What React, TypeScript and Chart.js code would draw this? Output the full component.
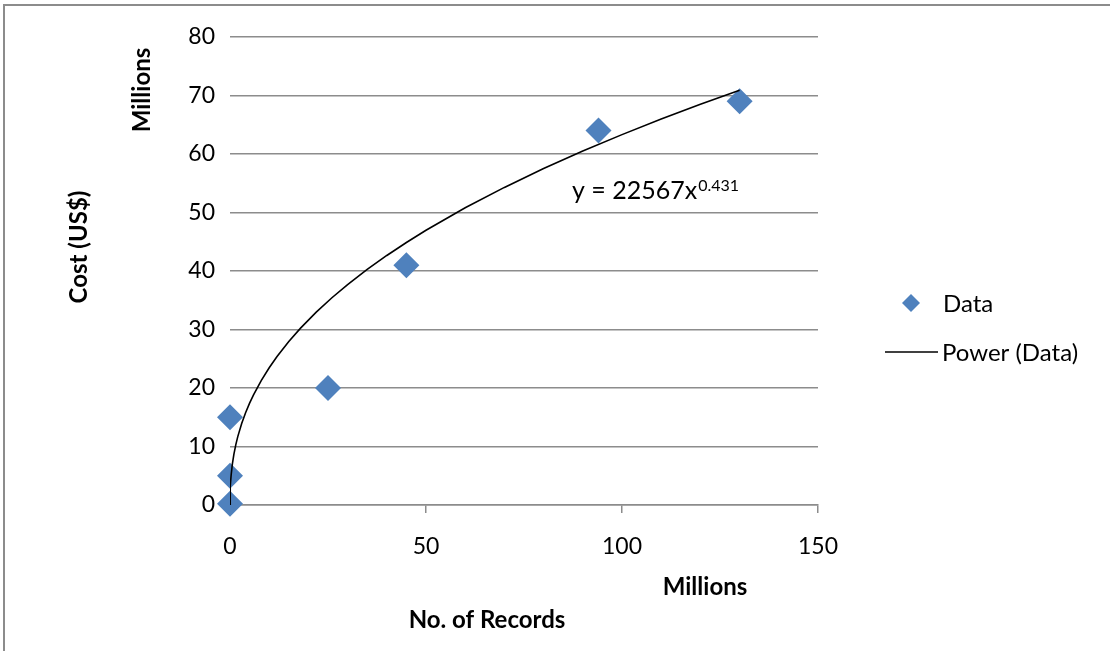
import React, { useEffect, useRef } from "react";
import { Chart, registerables } from "chart.js";

Chart.register(...registerables);

// Data (millions of records vs millions of US$)
const recordsX = [0, 0, 0, 25, 45, 94, 130];
const costY = [0.2, 5, 15, 20, 41, 64, 69];

// Power trendline printed on the chart: y = 22567 x^0.431 (raw units)
const TREND_COEF = 22567;
const TREND_EXP = 0.431;
const trendX = [0, 0.02, 0.1, 0.3, 0.6, 1, 1.5, 2, 3, 4, 5, 6, 8, 10, 12, 15, 18, 22, 26, 30, 35, 40, 45, 50, 60, 70, 80, 90, 100, 110, 120, 130];

const xTicks = [0, 50, 100, 150];
const yTicks = [0, 10, 20, 30, 40, 50, 60, 70, 80];

const FONT = "Lato";

export default function App() {
  const ref = useRef<HTMLCanvasElement | null>(null);

  useEffect(() => {
    document.body.style.margin = "0";
    const canvas = ref.current!;
    const trendPts = trendX.map((x) => ({
      x,
      y: (TREND_COEF * Math.pow(x * 1e6, TREND_EXP)) / 1e6,
    }));
    const dataPts = recordsX.map((x, i) => ({ x, y: costY[i] }));

    const decor = {
      id: "decor",
      beforeDraw(chart: any) {
        const ctx = chart.ctx;
        ctx.save();
        ctx.fillStyle = "#ffffff";
        ctx.fillRect(0, 0, chart.width, chart.height);
        ctx.fillStyle = "#8c8c8c";
        ctx.fillRect(3, 4, 2, chart.height - 4);
        ctx.fillRect(3, 4, chart.width - 3, 2);
        ctx.restore();
      },
      afterDraw(chart: any) {
        const ctx = chart.ctx;
        ctx.save();
        ctx.fillStyle = "#000";
        ctx.textBaseline = "middle";
        // axis titles
        ctx.font = `bold 24px ${FONT}`;
        ctx.textAlign = "center";
        ctx.save();
        ctx.translate(79, 247);
        ctx.rotate(-Math.PI / 2);
        ctx.fillText("Cost (US$)", 0, 0);
        ctx.restore();
        ctx.save();
        ctx.translate(142, 90);
        ctx.rotate(-Math.PI / 2);
        ctx.fillText("Millions", 0, 0);
        ctx.restore();
        ctx.fillText("Millions", 705, 587);
        ctx.fillText("No. of Records", 487, 620);

        // equation
        ctx.textAlign = "left";
        ctx.textBaseline = "alphabetic";
        ctx.font = `25px ${FONT}`;
        const main = "y = 22567x";
        ctx.fillText(main, 572, 199);
        const w = ctx.measureText(main).width;
        ctx.font = `16px ${FONT}`;
        ctx.fillText("0.431", 572 + w + 1, 191);

        // legend
        ctx.textBaseline = "middle";
        ctx.fillStyle = "#4F81BD";
        ctx.beginPath();
        ctx.moveTo(911, 294);
        ctx.lineTo(920, 303);
        ctx.lineTo(911, 312);
        ctx.lineTo(902, 303);
        ctx.closePath();
        ctx.fill();
        ctx.fillStyle = "#000";
        ctx.font = `24px ${FONT}`;
        ctx.fillText("Data", 943, 304);
        ctx.strokeStyle = "#000";
        ctx.lineWidth = 1.5;
        ctx.beginPath();
        ctx.moveTo(885, 352);
        ctx.lineTo(938, 352);
        ctx.stroke();
        ctx.fillText("Power (Data)", 942, 353);
        ctx.restore();
      },
    };

    const chart = new Chart(canvas, {
      type: "scatter",
      data: {
        datasets: [
          {
            label: "Power (Data)",
            data: trendPts,
            showLine: true,
            borderColor: "#000",
            borderWidth: 1.6,
            pointRadius: 0,
            tension: 0,
            order: 1,
          },
          {
            label: "Data",
            data: dataPts,
            pointStyle: "rectRot",
            pointRadius: 13,
            backgroundColor: "#4F81BD",
            borderColor: "#4F81BD",
            borderWidth: 0,
            clip: false,
            order: 2,
          },
        ],
      },
      options: {
        responsive: false,
        animation: false,
        devicePixelRatio: 1,
        layout: { padding: { left: 0, top: 37, right: 292, bottom: 0 } },
        plugins: {
          legend: { display: false },
          tooltip: { enabled: false },
        },
        scales: {
          x: {
            type: "linear",
            min: 0,
            max: 150,
            afterBuildTicks: (s: any) => {
              s.ticks = xTicks.map((v) => ({ value: v }));
            },
            afterFit: (s: any) => {
              s.height = 146;
            },
            grid: {
              drawOnChartArea: false,
              drawTicks: true,
              tickLength: 8,
              color: "#8c8c8c",
              lineWidth: 1.5,
            },
            border: { display: true, color: "#8c8c8c", width: 1.5 },
            ticks: {
              color: "#000",
              font: { family: FONT, size: 23 },
              padding: 20,
              maxRotation: 0,
            },
          },
          y: {
            type: "linear",
            min: 0,
            max: 80,
            afterBuildTicks: (s: any) => {
              s.ticks = yTicks.map((v) => ({ value: v }));
            },
            afterFit: (s: any) => {
              s.width = 230;
            },
            grid: {
              drawTicks: false,
              color: "#8c8c8c",
              lineWidth: 1.5,
            },
            border: { display: false },
            ticks: {
              color: "#000",
              font: { family: FONT, size: 23 },
              padding: 15,
            },
          },
        },
      },
      plugins: [decor],
    });
    return () => chart.destroy();
  }, []);

  return (
    <canvas
      ref={ref}
      width={1110}
      height={651}
      style={{ display: "block", width: 1110, height: 651 }}
    />
  );
}
